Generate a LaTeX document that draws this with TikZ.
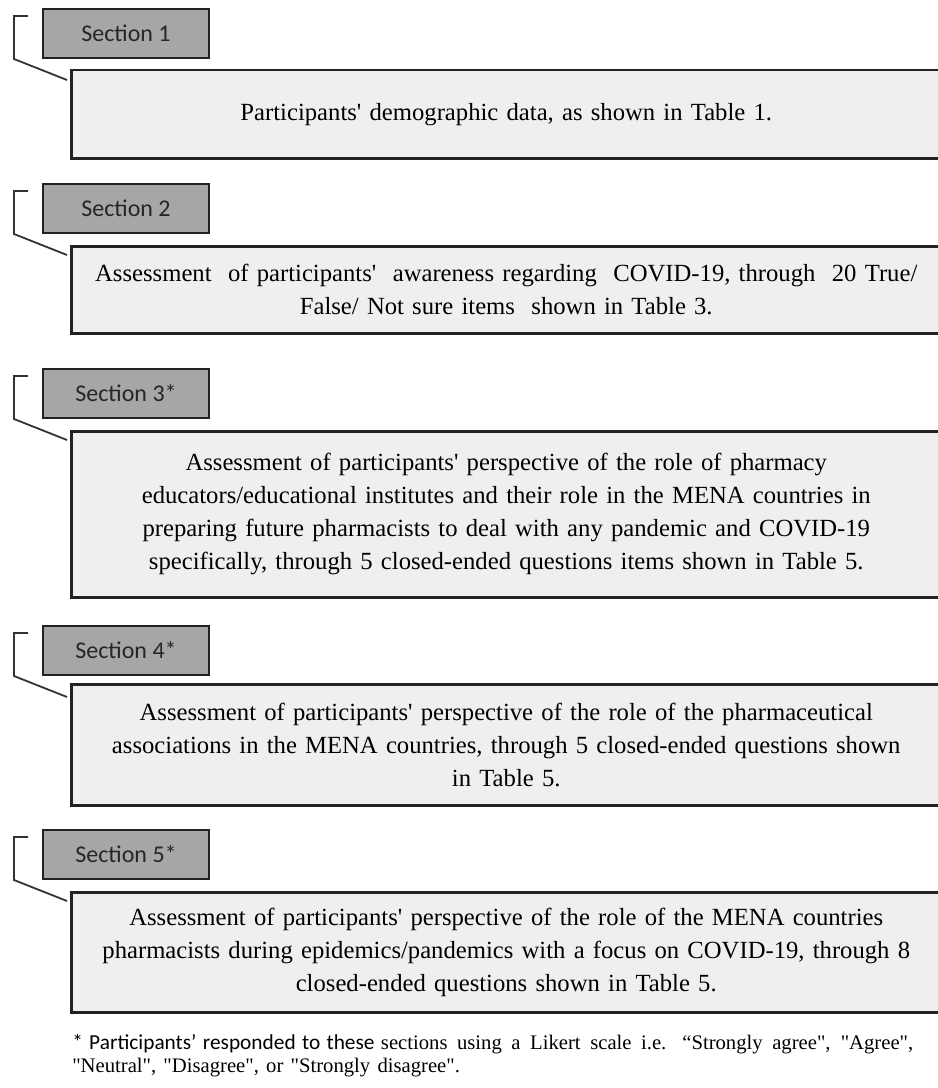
\documentclass[tikz,border=0pt]{standalone}
\usepackage{fontspec}
\setmainfont{Liberation Serif}[Ligatures=TeXOff, WordSpace=1.4]
\newfontfamily\carlito{Carlito}[Ligatures=TeXOff]
\usetikzlibrary{calc}
\newdimen\px \px=0.75pt
\definecolor{labfill}{HTML}{A6A6A6}
\definecolor{boxfill}{HTML}{EFEFEF}
\definecolor{edge}{HTML}{222222}
\begin{document}
\begin{tikzpicture}[x=0.75pt,y=-0.75pt,
 labelbox/.style={draw=edge, line width=2\px, fill=labfill, minimum width=166\px, minimum height=49\px, inner sep=0pt, anchor=north west, font=\carlito\fontsize{18}{20}\selectfont, text=black!85},
 mainbox/.style={draw=edge, line width=2.5\px, fill=boxfill, minimum width=870\px, inner sep=0pt, anchor=north west, align=center, text width=860\px, font=\fontsize{18.5}{24.75}\selectfont, text=black},
 bracket/.style={draw=black!80, line width=1.8\px},
 foot/.style={anchor=base west, inner sep=0pt, font=\fontsize{15.5}{18}\selectfont, text=black},
]
\fill[white] (0,0) rectangle (938,1088);
\useasboundingbox (0,0) rectangle (938,1088);
\clip (0,0) rectangle (938,1088);

\node[labelbox] (l1) at (42,8) {Section 1};
\node[mainbox, minimum height=88\px] (b1) at (70,69) {Participants' demographic data, as shown in Table 1.};

\node[labelbox] (l2) at (42,183) {Section 2};
\node[mainbox, minimum height=87\px] (b2) at (70,245) {Assessment~ of participants'~ awareness regarding~ COVID-19, through~ 20 True/\\False/ Not sure items~ shown in Table 3.};

\node[labelbox] (l3) at (42,368) {Section 3*};
\node[mainbox, minimum height=166\px] (b3) at (70,430) {Assessment of participants' perspective of the role of pharmacy\\educators/educational institutes and their role in the MENA countries in\\preparing future pharmacists to deal with any pandemic and COVID-19\\specifically, through 5 closed-ended questions items shown in Table 5.};

\node[labelbox] (l4) at (42,625) {Section 4*};
\node[mainbox, minimum height=121\px] (b4) at (70,683) {Assessment of participants' perspective of the role of the pharmaceutical\\associations in the MENA countries, through 5 closed-ended questions shown\\in Table 5.};

\node[labelbox] (l5) at (42,829) {Section 5*};
\node[mainbox, minimum height=120\px] (b5) at (70,891) {Assessment of participants' perspective of the role of the MENA countries\\pharmacists during epidemics/pandemics with a focus on COVID-19, through 8\\closed-ended questions shown in Table 5.};

\foreach \i in {1,...,5}{
  \draw[bracket] ($(l\i.north west)+(-14,8)$) -| ($(l\i.south west)+(-28,0)$) -- ($(l\i.south west)+(25,21)$);
}

\node[foot] (fn1) at (72,1049) {\makebox[841\px][s]{{\carlito\fontsize{16}{18}\selectfont * Participants’ responded to these }sections using a Likert scale i.e. “Strongly agree", "Agree",}};
\node[foot] (fn2) at (72,1072) {"Neutral", "Disagree", or "Strongly disagree".};
\end{tikzpicture}
\end{document}
